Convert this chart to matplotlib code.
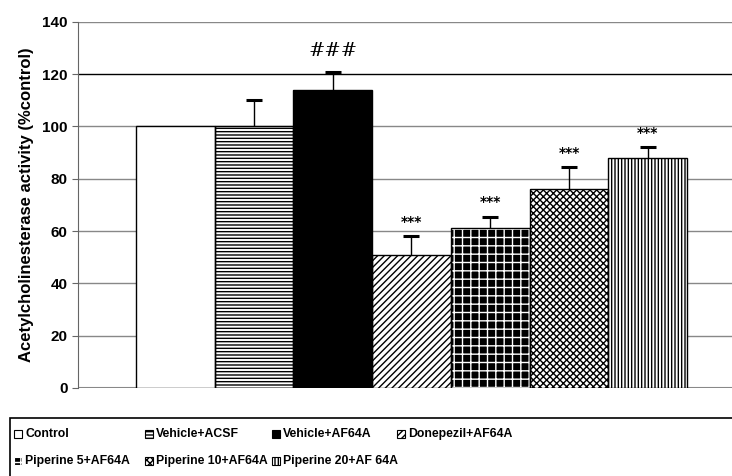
import matplotlib
matplotlib.use("Agg")
import matplotlib.pyplot as plt
from matplotlib.patches import Rectangle

groups = ["Control", "Vehicle+ACSF", "Vehicle+AF64A", "Donepezil+AF64A",
          "Piperine 5+AF64A", "Piperine 10+AF64A", "Piperine 20+AF 64A"]
means = [100, 100, 114, 51, 61, 76, 88]
errors = [0, 10, 7, 7, 4.5, 8.5, 4]
marks = ["", "", "###", "***", "***", "***", "***"]
yticks = [0, 20, 40, 60, 80, 100, 120, 140]

faces = ["white", "white", "black", "white", "black", "white", "white"]
hatches = [None, "-----", None, "/////", "++", "xxxxx", "|||||"]
hatch_colors = ["black", "black", "black", "black", "white", "black", "black"]

plt.rcParams["font.family"] = ["Liberation Sans", "DejaVu Sans"]
plt.rcParams["hatch.linewidth"] = 1.0

fig = plt.figure(figsize=(7.32, 4.76), dpi=100)
ax = fig.add_axes([0.1066, 0.185, 0.8934, 0.769])

x = list(range(len(groups)))
for i in x:
    ax.bar(i, means[i], width=1.0, color=faces[i], edgecolor=hatch_colors[i] if hatches[i] else "black",
           hatch=hatches[i], linewidth=0, zorder=3)
    ax.bar(i, means[i], width=1.0, color="none", edgecolor="black", linewidth=1.0, zorder=4)
    if errors[i] > 0:
        top = means[i] + errors[i]
        ax.vlines(i, means[i], top, color="black", linewidth=1.0, zorder=5)
        ax.plot([i], [top], marker="_", markersize=11, markeredgewidth=2.2, color="black", zorder=5)
    if marks[i]:
        if marks[i] == "###":
            ax.text(i, means[i] + errors[i] + 8, marks[i], ha="center", va="center",
                    fontsize=14, family=["DejaVu Serif"], fontstyle="italic", color="black")
        else:
            ax.text(i, means[i] + errors[i] + 5.5, marks[i], ha="center", va="center",
                    fontsize=10, family=["DejaVu Sans"], fontweight="bold", color="black")

ax.set_xlim(-1.234, 7.07)
ax.set_ylim(0, 140)
ax.set_yticks(yticks)
ax.set_yticklabels([str(t) for t in yticks], fontsize=11, fontweight="bold")
ax.set_xticks([])
for t in yticks[1:]:
    ax.axhline(t, color="black" if t == 120 else "#888888", linewidth=1.0, zorder=1)
ax.axhline(0, color="#888888", linewidth=1.5, zorder=2)
for s in ["top", "right", "bottom"]:
    ax.spines[s].set_visible(False)
ax.spines["left"].set_color("#666666")
ax.tick_params(axis="y", length=4, color="#666666")
ax.set_ylabel("Acetylcholinesterase activity (%control)", fontsize=12, fontweight="bold", labelpad=6)

# legend box
W, H = 732, 476
fig.patches.append(Rectangle((10 / W, -0.05), 0.99, (476 - 418) / H + 0.05, transform=fig.transFigure,
                             facecolor="white", edgecolor="black", linewidth=1.2))
col_x = [14, 145, 272, 397]
row_y = [434, 461]
for i, g in enumerate(groups):
    cx = col_x[i % 4]
    cy = row_y[i // 4]
    fig.patches.append(Rectangle((cx / W, 1 - (cy + 4) / H), 8 / W, 8 / H, transform=fig.transFigure,
                                 facecolor=faces[i], edgecolor=hatch_colors[i] if hatches[i] else "black",
                                 hatch=hatches[i], linewidth=0.8))
    fig.text((cx + 11) / W, 1 - cy / H, g, ha="left", va="center", fontsize=8.8, fontweight="bold")

fig.savefig("out.png", dpi=100)
